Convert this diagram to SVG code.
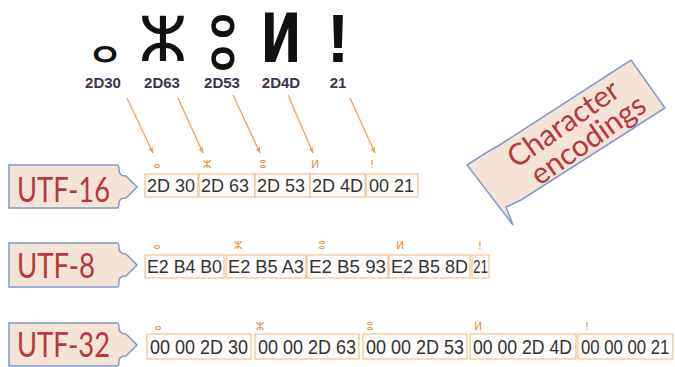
<svg xmlns="http://www.w3.org/2000/svg" width="675" height="367" viewBox="0 0 675 367">
<defs>
<style>
.glyph{font-family:"DejaVu Sans",sans-serif;fill:#111;text-anchor:middle}
.code{font-family:"Liberation Sans",Arial,sans-serif;font-size:15px;font-weight:bold;fill:#3e3350;text-anchor:middle}
.lbl{fill:#f5e3d7;stroke:#7f9bcc;stroke-width:1.5}
.lbltxt{font-family:Lato,"Open Sans",sans-serif;font-size:35px;fill:#b8383c}
.box{fill:#fffdfb;stroke:#f2b47a;stroke-width:1}
.hex{font-family:"Liberation Sans",Arial,sans-serif;font-size:18px;fill:#333}
.mini{font-family:"DejaVu Sans",sans-serif;font-size:11px;fill:#ef8f3a;text-anchor:middle}
.conn{stroke:#f0a05a;stroke-width:1.3;fill:none}
</style>
<marker id="ah" viewBox="0 0 10 10" refX="9" refY="5" markerWidth="6" markerHeight="6" orient="auto" markerUnits="userSpaceOnUse">
<path d="M0,1 L10,5 L0,9 z" fill="#f0a05a"/>
</marker>
</defs>
<rect width="675" height="367" fill="#ffffff"/>

<g id="chars">
<text class="glyph" x="105" y="62" font-size="42">ⴰ</text>
<text class="glyph" x="163" y="61" font-size="62">ⵣ</text>
<text class="glyph" font-size="60" transform="translate(223,69) scale(0.72,1.22)">ⵓ</text>
<text class="glyph" font-size="68" font-weight="bold" transform="translate(281,62) scale(0.72,1)">ⵍ</text>
<text class="glyph" x="338" y="62" font-size="68" font-weight="bold" style="font-family:'Liberation Sans',Arial,sans-serif">!</text>
<text class="code" x="103" y="88">2D30</text>
<text class="code" x="162" y="88">2D63</text>
<text class="code" x="222" y="88">2D53</text>
<text class="code" x="281" y="88">2D4D</text>
<text class="code" x="338" y="88">21</text>
</g>

<g id="connectors">
<line class="conn" x1="127" y1="98" x2="153" y2="153" marker-end="url(#ah)"/>
<line class="conn" x1="178" y1="98" x2="203" y2="153" marker-end="url(#ah)"/>
<line class="conn" x1="233" y1="95" x2="260" y2="153" marker-end="url(#ah)"/>
<line class="conn" x1="288" y1="95" x2="313" y2="153" marker-end="url(#ah)"/>
<line class="conn" x1="350" y1="98" x2="375" y2="153" marker-end="url(#ah)"/>
</g>

<g id="encodings-arrow">
<path class="lbl" d="M631,60 L665,108 L521,200 L506,207 L513,225 L467,165 L489,151 L498,146 Z"/>
<text transform="translate(569,132) rotate(-35)" text-anchor="middle" class="lbltxt" style="font-size:30px">Character</text>
<text transform="translate(594,148) rotate(-35)" text-anchor="middle" class="lbltxt" style="font-size:30px">encodings</text>
</g>

<g id="utf16">
<path class="lbl" d="M9,165 H117 Q119,165 119,170 Q119,176 126,176 L137,187 L126,198 Q119,198 119,203 Q119,208 117,208 H9 Z"/>
<text class="lbltxt" x="17" y="202" textLength="93" lengthAdjust="spacingAndGlyphs">UTF-16</text>
<text class="mini" x="157" y="168">ⴰ</text>
<text class="mini" x="207" y="168">ⵣ</text>
<text class="mini" x="263" y="168">ⵓ</text>
<text class="mini" x="315" y="168">ⵍ</text>
<text class="mini" x="372" y="168">!</text>
<rect class="box" x="145" y="174" width="53" height="23"/>
<rect class="box" x="199" y="174" width="56" height="23"/>
<rect class="box" x="255" y="174" width="55" height="23"/>
<rect class="box" x="310" y="174" width="55" height="23"/>
<rect class="box" x="366" y="174" width="52" height="23"/>
<text class="hex" x="147" y="192">2D 30</text>
<text class="hex" x="201" y="192">2D 63</text>
<text class="hex" x="257" y="192">2D 53</text>
<text class="hex" x="312" y="192">2D 4D</text>
<text class="hex" x="369" y="192">00 21</text>
</g>

<g id="utf8">
<path class="lbl" d="M9,243 H117 Q119,243 119,248 Q119,254 126,254 L137,265 L126,276 Q119,276 119,281 Q119,287 117,287 H9 Z"/>
<text class="lbltxt" x="17" y="278" textLength="78" lengthAdjust="spacingAndGlyphs">UTF-8</text>
<text class="mini" x="157" y="249">ⴰ</text>
<text class="mini" x="238" y="249">ⵣ</text>
<text class="mini" x="322" y="249">ⵓ</text>
<text class="mini" x="400" y="249">ⵍ</text>
<text class="mini" x="480" y="249">!</text>
<rect class="box" x="145" y="255" width="79" height="23"/>
<rect class="box" x="226" y="255" width="80" height="23"/>
<rect class="box" x="307" y="255" width="81" height="23"/>
<rect class="box" x="389" y="255" width="81" height="23"/>
<rect class="box" x="472" y="255" width="17" height="23"/>
<text class="hex" x="147" y="273" textLength="75" lengthAdjust="spacingAndGlyphs">E2 B4 B0</text>
<text class="hex" x="228" y="273" textLength="76" lengthAdjust="spacingAndGlyphs">E2 B5 A3</text>
<text class="hex" x="309" y="273" textLength="77" lengthAdjust="spacingAndGlyphs">E2 B5 93</text>
<text class="hex" x="391" y="273" textLength="77" lengthAdjust="spacingAndGlyphs">E2 B5 8D</text>
<text class="hex" x="473" y="273" textLength="15" lengthAdjust="spacingAndGlyphs">21</text>
</g>

<g id="utf32">
<path class="lbl" d="M9,323 H117 Q119,323 119,328 Q119,334 126,334 L137,345 L126,356 Q119,356 119,361 Q119,366 117,366 H9 Z"/>
<text class="lbltxt" x="17" y="357" textLength="93" lengthAdjust="spacingAndGlyphs">UTF-32</text>
<text class="mini" x="158" y="330">ⴰ</text>
<text class="mini" x="260" y="330">ⵣ</text>
<text class="mini" x="370" y="330">ⵓ</text>
<text class="mini" x="478" y="330">ⵍ</text>
<text class="mini" x="587" y="330">!</text>
<rect class="box" x="147" y="334" width="104" height="25"/>
<rect class="box" x="255" y="334" width="104" height="25"/>
<rect class="box" x="363" y="334" width="104" height="25"/>
<rect class="box" x="470" y="334" width="106" height="25"/>
<rect class="box" x="578" y="334" width="95" height="25"/>
<text class="hex" transform="translate(150,354) scale(1,1.1)">00 00 2D 30</text>
<text class="hex" transform="translate(258,354) scale(1,1.1)">00 00 2D 63</text>
<text class="hex" transform="translate(366,354) scale(1,1.1)">00 00 2D 53</text>
<text class="hex" transform="translate(473,354) scale(0.98,1.1)">00 00 2D 4D</text>
<text class="hex" transform="translate(581,354) scale(0.93,1.1)">00 00 00 21</text>
</g>
</svg>
